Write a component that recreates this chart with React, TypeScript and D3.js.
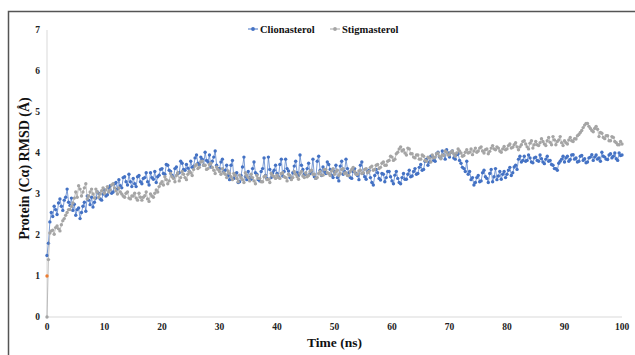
import { useRef, useEffect } from 'react';
import * as d3 from 'd3';

// RMSD samples every 0.25 ns, 0..100 ns (one row = 5 ns)
const timeStep = 0.25;

const clionasterol = [
    1.50, 1.80, 2.32, 2.55, 2.45, 2.70, 2.62, 2.50, 2.78, 2.88, 2.70, 2.60, 2.85, 2.92, 3.12, 2.80, 2.72, 2.90, 2.60, 2.75,
    2.48, 2.62, 2.66, 2.40, 2.55, 2.70, 2.80, 2.58, 2.95, 2.85, 2.74, 2.92, 2.68, 2.80, 2.90, 3.05, 3.02, 2.88, 2.85, 3.00,
    3.10, 2.95, 2.98, 3.15, 3.20, 3.02, 3.05, 3.25, 3.28, 3.12, 3.35, 3.20, 3.15, 3.40, 3.42, 3.30, 3.22, 3.48, 3.30, 3.18,
    3.38, 3.25, 3.18, 3.42, 3.45, 3.30, 3.25, 3.38, 3.40, 3.52, 3.30, 3.22, 3.52, 3.40, 3.36, 3.55, 3.28, 3.42, 3.46, 3.60,
    3.62, 3.50, 3.48, 3.72, 3.70, 3.58, 3.55, 3.45, 3.40, 3.62, 3.66, 3.50, 3.52, 3.80, 3.75, 3.60, 3.58, 3.72, 3.63, 3.55,
    3.80, 3.65, 3.68, 3.88, 3.95, 3.75, 3.72, 3.90, 3.85, 3.70, 4.02, 3.82, 3.78, 3.95, 3.66, 3.80, 3.90, 4.05, 3.70, 3.62,
    3.62, 3.78, 3.85, 3.55, 3.58, 3.70, 3.45, 3.35, 3.70, 3.82, 3.38, 3.50, 3.52, 3.28, 3.30, 3.45, 3.66, 3.90, 3.42, 3.35,
    3.55, 3.40, 3.36, 3.62, 3.78, 3.52, 3.48, 3.35, 3.32, 3.55, 3.62, 3.88, 3.45, 3.38, 3.90, 3.60, 3.40, 3.52, 3.58, 3.70,
    3.50, 3.42, 3.72, 3.85, 3.44, 3.55, 3.85, 3.62, 3.56, 3.40, 3.38, 3.52, 3.68, 3.80, 3.52, 3.45, 3.95, 3.70, 3.60, 3.48,
    3.48, 3.62, 3.75, 3.50, 3.55, 3.85, 3.42, 3.38, 3.80, 3.92, 3.58, 3.45, 3.66, 3.55, 3.50, 3.78, 3.72, 3.60, 3.46, 3.40,
    3.55, 3.70, 3.40, 3.32, 3.68, 3.80, 3.48, 3.55, 3.85, 3.62, 3.52, 3.40, 3.38, 3.55, 3.62, 3.50, 3.45, 3.35, 3.70, 3.78,
    3.50, 3.42, 3.36, 3.55, 3.58, 3.40, 3.28, 3.22, 3.45, 3.60, 3.52, 3.38, 3.34, 3.50, 3.48, 3.30, 3.40, 3.55, 3.55, 3.42,
    3.32, 3.25, 3.46, 3.55, 3.38, 3.28, 3.25, 3.40, 3.50, 3.36, 3.36, 3.48, 3.58, 3.42, 3.44, 3.55, 3.62, 3.48, 3.50, 3.65,
    3.72, 3.58, 3.60, 3.80, 3.85, 3.70, 3.78, 3.92, 3.92, 3.82, 3.80, 3.98, 4.02, 3.90, 3.88, 4.05, 3.95, 3.85, 4.08, 4.00,
    3.90, 4.02, 4.05, 3.88, 3.85, 3.96, 3.98, 3.82, 3.75, 3.65, 3.62, 3.55, 3.80, 3.48, 3.55, 3.35, 3.40, 3.22, 3.28, 3.40,
    3.45, 3.30, 3.32, 3.52, 3.58, 3.42, 3.38, 3.28, 3.50, 3.60, 3.30, 3.42, 3.62, 3.35, 3.44, 3.55, 3.36, 3.48, 3.55, 3.40,
    3.48, 3.58, 3.65, 3.45, 3.52, 3.66, 3.70, 3.60, 3.85, 3.92, 3.78, 3.82, 3.92, 3.80, 3.82, 3.95, 3.88, 3.78, 3.76, 3.88,
    3.90, 3.82, 3.80, 3.95, 3.86, 3.78, 3.74, 3.85, 3.92, 3.80, 3.82, 3.72, 3.70, 3.62, 3.62, 3.58, 3.75, 3.80, 3.85, 3.92,
    3.78, 3.88, 3.92, 3.80, 3.84, 3.95, 3.96, 3.85, 3.88, 3.78, 3.80, 3.92, 3.94, 3.82, 3.86, 3.76, 3.78, 3.88, 3.90, 3.96,
    3.82, 3.90, 3.95, 3.85, 3.88, 3.80, 4.02, 3.92, 3.90, 3.85, 3.84, 3.95, 3.98, 3.88, 3.92, 4.00, 3.86, 3.82, 4.00, 3.94,
    3.95,
];

const stigmasterol = [
    0.00, 1.40, 2.05, 2.10, 2.12, 2.02, 2.18, 2.22, 2.15, 2.10, 2.25, 2.35, 2.40, 2.48, 2.55, 2.62, 2.62, 2.70, 2.78, 2.90,
    3.05, 2.92, 3.20, 3.12, 2.95, 3.05, 3.15, 3.25, 2.88, 2.95, 3.05, 3.12, 3.00, 2.90, 3.12, 3.05, 2.92, 3.00, 3.08, 3.15,
    3.02, 3.10, 3.18, 3.05, 3.10, 3.22, 3.25, 3.15, 3.08, 3.00, 3.15, 3.05, 3.00, 2.95, 2.92, 3.02, 3.05, 2.90, 2.88, 2.95,
    2.95, 3.02, 2.90, 2.85, 3.02, 2.92, 2.85, 2.92, 2.96, 3.05, 2.88, 2.82, 3.00, 2.95, 2.92, 3.02, 3.10, 3.05, 3.18, 3.25,
    3.30, 3.22, 3.42, 3.35, 3.25, 3.32, 3.50, 3.42, 3.38, 3.30, 3.45, 3.52, 3.32, 3.40, 3.55, 3.48, 3.40, 3.35, 3.48, 3.55,
    3.52, 3.45, 3.60, 3.68, 3.72, 3.62, 3.65, 3.78, 3.80, 3.70, 3.70, 3.60, 3.62, 3.72, 3.75, 3.65, 3.58, 3.50, 3.66, 3.60,
    3.55, 3.48, 3.62, 3.52, 3.48, 3.40, 3.56, 3.50, 3.42, 3.35, 3.50, 3.45, 3.38, 3.30, 3.46, 3.40, 3.35, 3.28, 3.52, 3.45,
    3.40, 3.32, 3.48, 3.40, 3.32, 3.25, 3.45, 3.38, 3.38, 3.30, 3.30, 3.42, 3.44, 3.35, 3.36, 3.28, 3.50, 3.45, 3.42, 3.38,
    3.46, 3.40, 3.38, 3.50, 3.52, 3.42, 3.40, 3.32, 3.48, 3.45, 3.35, 3.40, 3.55, 3.48, 3.42, 3.36, 3.50, 3.55, 3.44, 3.40,
    3.52, 3.42, 3.45, 3.55, 3.58, 3.48, 3.48, 3.38, 3.40, 3.50, 3.55, 3.46, 3.46, 3.60, 3.60, 3.52, 3.50, 3.45, 3.56, 3.62,
    3.48, 3.55, 3.58, 3.45, 3.50, 3.60, 3.62, 3.50, 3.52, 3.45, 3.45, 3.55, 3.60, 3.65, 3.55, 3.48, 3.48, 3.56, 3.58, 3.50,
    3.52, 3.60, 3.62, 3.52, 3.55, 3.65, 3.68, 3.58, 3.60, 3.70, 3.72, 3.62, 3.65, 3.75, 3.78, 3.70, 3.70, 3.80, 3.82, 3.92,
    3.90, 3.82, 3.85, 3.98, 4.02, 4.10, 4.15, 4.05, 4.08, 4.00, 3.95, 4.12, 4.10, 3.98, 3.98, 3.90, 3.88, 3.95, 3.95, 3.85,
    3.85, 3.95, 3.92, 3.82, 3.80, 3.90, 3.88, 3.78, 3.95, 3.88, 3.90, 3.98, 4.00, 3.92, 3.86, 3.95, 3.94, 4.05, 4.02, 3.95,
    3.96, 4.02, 4.05, 3.98, 3.92, 4.00, 4.10, 4.05, 4.00, 3.92, 3.94, 4.02, 4.08, 4.00, 4.02, 4.10, 3.96, 4.05, 4.12, 4.02,
    4.05, 4.12, 4.15, 4.05, 4.00, 4.08, 4.10, 3.98, 4.04, 4.12, 4.18, 4.10, 4.08, 4.15, 4.12, 4.05, 4.02, 4.10, 4.16, 4.08,
    4.10, 4.18, 4.22, 4.12, 4.14, 4.20, 4.25, 4.15, 4.08, 4.15, 4.20, 4.28, 4.30, 4.22, 4.15, 4.10, 4.24, 4.30, 4.12, 4.20,
    4.28, 4.20, 4.18, 4.25, 4.35, 4.28, 4.22, 4.18, 4.30, 4.38, 4.26, 4.20, 4.40, 4.32, 4.20, 4.28, 4.32, 4.40, 4.25, 4.18,
    4.30, 4.25, 4.22, 4.32, 4.38, 4.30, 4.28, 4.35, 4.34, 4.42, 4.45, 4.50, 4.55, 4.62, 4.68, 4.72, 4.72, 4.65, 4.60, 4.55,
    4.52, 4.60, 4.65, 4.58, 4.40, 4.50, 4.48, 4.38, 4.35, 4.42, 4.42, 4.30, 4.30, 4.40, 4.38, 4.28, 4.25, 4.20, 4.20, 4.28,
    4.22,
];

// stray single point at t = 0
const extraPoint = [{ t: 0, v: 1 }];

const xTicks = [0, 10, 20, 30, 40, 50, 60, 70, 80, 90, 100];
const yTicks = [0, 1, 2, 3, 4, 5, 6, 7];

const seriesList = [
    { name: 'Clionasterol', values: clionasterol, color: '#4472C4' },
    { name: 'Stigmasterol', values: stigmasterol, color: '#A5A5A5' },
];

const FONT = '"Liberation Serif", "Times New Roman", serif';

export default function App() {
    const chartRef = useRef<SVGSVGElement>(null);

    useEffect(() => {
        if (!chartRef.current) return;
        const root = d3.select(chartRef.current);
        root.selectAll('*').remove();

        const margin = { top: 30, right: 13, bottom: 38, left: 47 };
        const W = 635, H = 355;
        const width = W - margin.left - margin.right;
        const height = H - margin.top - margin.bottom;

        // outer frame (only top and left edges fall inside the picture)
        root.append('rect')
            .attr('x', 8.5).attr('y', 11.5)
            .attr('width', 700).attr('height', 400)
            .attr('fill', 'none')
            .attr('stroke', '#555').attr('stroke-width', 1.5);

        const svg = root.append('g')
            .attr('transform', `translate(${margin.left},${margin.top})`);

        const x = d3.scaleLinear().domain([0, 100]).range([0, width]);
        const y = d3.scaleLinear().domain([0, 7]).range([height, 0]);

        // axes lines
        svg.append('line')
            .attr('x1', 0).attr('x2', width)
            .attr('y1', height).attr('y2', height)
            .attr('stroke', '#D9D9D9').attr('stroke-width', 1);
        svg.append('line')
            .attr('x1', 0).attr('x2', 0)
            .attr('y1', 0).attr('y2', height)
            .attr('stroke', '#D9D9D9').attr('stroke-width', 1);

        // tick labels
        svg.selectAll('.xt').data(xTicks).enter().append('text')
            .attr('x', d => x(d))
            .attr('y', height + 13)
            .attr('text-anchor', 'middle')
            .style('font-family', FONT).style('font-weight', 'bold')
            .style('font-size', '9.5px').style('fill', '#222')
            .text(d => d);
        svg.selectAll('.yt').data(yTicks).enter().append('text')
            .attr('x', -7)
            .attr('y', d => y(d) + 3)
            .attr('text-anchor', 'end')
            .style('font-family', FONT).style('font-weight', 'bold')
            .style('font-size', '9.5px').style('fill', '#222')
            .text(d => d);

        // axis titles
        svg.append('text')
            .attr('x', width / 2)
            .attr('y', height + 30)
            .attr('text-anchor', 'middle')
            .style('font-family', FONT).style('font-weight', 'bold')
            .style('font-size', '13.5px').style('fill', '#111')
            .text('Time (ns)');
        svg.append('text')
            .attr('transform', 'rotate(-90)')
            .attr('x', -(height / 2) + 5)
            .attr('y', -18)
            .attr('text-anchor', 'middle')
            .style('font-family', FONT).style('font-weight', 'bold')
            .style('font-size', '14px').style('fill', '#111')
            .text('Protein (Cα) RMSD (Å)');

        // series
        seriesList.forEach(s => {
            const pts = s.values.map((v, i) => ({ t: i * timeStep, v }));
            const line = d3.line<{ t: number; v: number }>()
                .x(d => x(d.t)).y(d => y(d.v));
            svg.append('path')
                .datum(pts)
                .attr('d', line)
                .attr('fill', 'none')
                .attr('stroke', s.color)
                .attr('stroke-width', 0.7);
            svg.append('g').selectAll('circle').data(pts).enter().append('circle')
                .attr('cx', d => x(d.t))
                .attr('cy', d => y(d.v))
                .attr('r', 1.7)
                .attr('fill', s.color);
        });

        svg.selectAll('.extra').data(extraPoint).enter().append('circle')
            .attr('cx', d => x(d.t)).attr('cy', d => y(d.v))
            .attr('r', 1.7).attr('fill', '#ED7D31');

        // legend
        const legendX = [248 - margin.left, 330 - margin.left];
        seriesList.forEach((s, i) => {
            const g = svg.append('g')
                .attr('transform', `translate(${legendX[i]},${29 - margin.top})`);
            g.append('line')
                .attr('x1', 0).attr('x2', 10)
                .attr('stroke', s.color).attr('stroke-width', 1);
            g.append('circle').attr('cx', 5).attr('r', 1.9).attr('fill', s.color);
            g.append('text')
                .attr('x', 12).attr('y', 3.8)
                .style('font-family', FONT).style('font-weight', 'bold')
                .style('font-size', '10.5px').style('fill', '#111')
                .text(s.name);
        });
    }, []);

    return (
        <div style={{ position: 'fixed', left: 0, top: 0 }}>
            <svg ref={chartRef} width={635} height={355} style={{ display: 'block', background: '#fff' }} />
        </div>
    );
}
